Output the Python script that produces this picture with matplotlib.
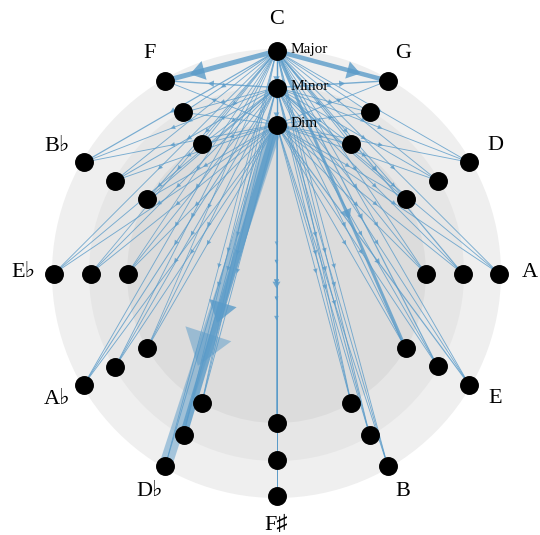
import numpy as np
import matplotlib.pyplot as plt
from matplotlib.patches import Circle, Polygon

# circle of fifths, clockwise from the top
keys = ['C', 'G', 'D', 'A', 'E', 'B', 'F♯', 'D♭', 'A♭', 'E♭', 'B♭', 'F']
rings = ['Major', 'Minor', 'Dim']

# edge widths (px) from C Major / C Minor / C Dim to every key, per quality
# order of each row: keys above
from_major = {
    'Major': [0, 4.5, 0.9, 0.9, 0.9, 0.9, 1.0, 0.8, 0.9, 0.9, 1.2, 5.0],
    'Minor': [1.4, 0.9, 0.9, 1.2, 1.2, 0.9, 0.6, 0.8, 0.9, 0.8, 0.9, 1.0],
    'Dim':   [1.2, 0.9, 0.9, 0.9, 3.0, 0.9, 0.6, 0.8, 0.8, 0.8, 0.9, 0.9],
}
from_minor = {
    'Major': [0, 1.4, 0.9, 0.9, 0.9, 0.9, 0.6, 0.9, 1.0, 0.9, 0.9, 1.4],
    'Minor': [0, 0.9, 0.9, 0.9, 0.9, 1.0, 1.0, 0.9, 0.9, 0.9, 1.0, 0.9],
    'Dim':   [1.2, 0.9, 0.9, 0.9, 0.9, 0.9, 0.6, 0.9, 0.9, 0.9, 0.9, 0.9],
}
from_dim = {
    'Major': [0, 0.9, 0.9, 0.9, 1.2, 0.9, 0.9, 13.0, 0.9, 0.9, 0.9, 0.9],
    'Minor': [0, 0.9, 0.9, 0.9, 0.9, 0.9, 0.6, 7.5, 0.9, 0.9, 0.9, 0.9],
    'Dim':   [0, 0.9, 0.9, 0.9, 0.9, 0.9, 1.8, 0.9, 0.9, 0.9, 0.9, 0.9],
}
sources = {'Major': from_major, 'Minor': from_minor, 'Dim': from_dim}

radius = {'Major': 222.5, 'Minor': 186.0, 'Dim': 149.0}
label_r = 253.0
edge_col = '#5a9bc9'


def pos(k, ring):
    a = np.deg2rad(30 * k)
    r = radius[ring]
    return np.array([r * np.sin(a), r * np.cos(a)])


fig = plt.figure(figsize=(5.4, 5.35), dpi=100)
ax = fig.add_axes([0, 0, 1, 1])
ax.set_xlim(-276.5, 263.5)
ax.set_ylim(-261.5, 273.5)
ax.set_aspect('equal')
ax.axis('off')

# background discs
for r, c in [(224.5, '#efefef'), (187.5, '#e6e6e6'), (149.5, '#dcdcdc')]:
    ax.add_patch(Circle((0, 0), r, color=c, zorder=0, lw=0))

# edges, arrowhead a little past the middle
px2pt = 72 / 100
for src, table in sources.items():
    p0 = pos(0, src)
    for ring in rings:
        for k, w in enumerate(table[ring]):
            if w <= 0:
                continue
            p1 = pos(k, ring)
            d = p1 - p0
            L = np.hypot(*d)
            if L < 1:
                continue
            u = d / L
            n = np.array([-u[1], u[0]])
            al = 0.5 if w > 10 else 0.8
            ax.plot([p0[0], p1[0]], [p0[1], p1[1]], color=edge_col,
                    lw=w * px2pt, alpha=al, solid_capstyle='butt', zorder=1)
            hl = 2.4 * w + 2.5
            hw = 3.6 * w + 1.5
            tip = p0 + d * 0.5 + u * 2.2 * hl
            base = tip - u * hl
            tri = [tip, base + n * hw / 2, base - n * hw / 2]
            ax.add_patch(Polygon(tri, closed=True, color=edge_col, alpha=al,
                                 lw=0, zorder=1))

# nodes
for ring in rings:
    pts = np.array([pos(k, ring) for k in range(12)])
    ax.plot(pts[:, 0], pts[:, 1], 'o', color='black', ms=12.6, zorder=3)

fam = ['Liberation Serif', 'DejaVu Serif', 'DejaVu Sans']
for k, name in enumerate(keys):
    a = np.deg2rad(30 * k)
    ax.text(label_r * np.sin(a), label_r * np.cos(a) - 3.5, name, ha='center',
            va='baseline', fontsize=16, family=fam, zorder=4)

for ring in rings:
    p = pos(0, ring)
    ax.text(p[0] + 14, p[1] + 1, ring, ha='left', va='center', fontsize=11,
            family=fam, zorder=4)

plt.savefig('out.png', dpi=100)
